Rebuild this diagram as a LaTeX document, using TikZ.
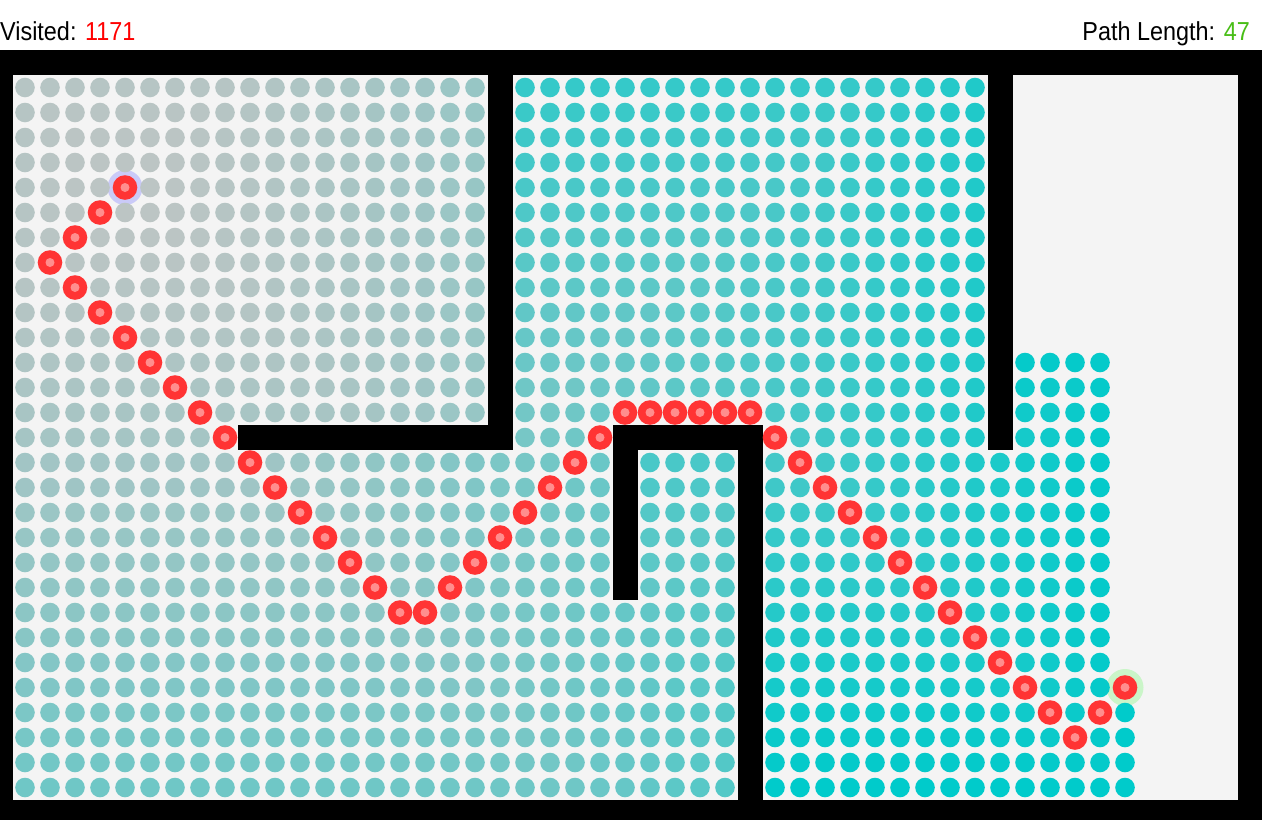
\documentclass[tikz,border=0pt]{standalone}
\usepackage{fontspec}
\setmainfont{Liberation Sans}
\usepackage{graphicx}
\definecolor{bgpanel}{HTML}{F4F4F4}
\definecolor{pathred}{RGB}{255,52,52}
\definecolor{pathcore}{RGB}{255,142,142}
\definecolor{starthalo}{RGB}{202,202,248}
\definecolor{endhalo}{RGB}{202,245,200}
\definecolor{countred}{RGB}{255,0,0}
\definecolor{lengreen}{RGB}{72,190,22}
\begin{document}
\begin{tikzpicture}[x=1pt,y=-1pt,
  wall/.style={fill=black},
  pathdot/.style={fill=pathred},
  pathmid/.style={fill=pathcore},
  label/.style={anchor=base, inner sep=0pt, font=\fontsize{26}{30}\selectfont}]
\useasboundingbox (0,0) rectangle (1262,820);
\fill[white] (0,0) rectangle (1262,820);
% frame and floor
\fill[wall] (0,50) rectangle (1262,820);
\fill[bgpanel] (12.5,75) rectangle (1237.5,800);
% inner walls
\fill[wall] (487.5,75) rectangle (512.5,450);
\fill[wall] (237.5,425) rectangle (512.5,450);
\fill[wall] (987.5,75) rectangle (1012.5,450);
\fill[wall] (612.5,425) rectangle (762.5,450);
\fill[wall] (612.5,425) rectangle (637.5,600);
\fill[wall] (737.5,425) rectangle (762.5,800);
% header texts
\node[label, anchor=base west] (visited) at (0,40) {\scalebox{0.9}[1]{Visited: \textcolor{countred}{1171}}};
\node[label, anchor=base east] (pathlen) at (1250,40) {\scalebox{0.9}[1]{Path Length: \textcolor{lengreen}{47}}};
% halos
\fill[starthalo] (125,187.5) circle[radius=17.5pt];
\fill[endhalo] (1125,687.5) circle[radius=18.5pt];
% visited cells
\foreach \ci in {1,...,49}{
  \foreach \ri in {1,...,29}{
    \pgfmathtruncatemacro\novis{((\ci==20)&&(\ri<=15))||((\ri==15)&&(\ci>=10)&&(\ci<=20))||((\ci==40)&&(\ri<=15))||((\ri==15)&&(\ci>=25)&&(\ci<=30))||((\ci==25)&&(\ri>=15)&&(\ri<=21))||((\ci==30)&&(\ri>=15))||((\ci>=41)&&(\ri<=11))||((\ci>=45)&&(\ri<=24))||(\ci>=46)}
    \ifnum\novis=0
      \pgfmathtruncatemacro\reg{((\ri<=15)&&(\ci<=19)) ? 1 : (((\ci<=29)&&(\ri>=15)) ? 2 : (((\ci<=39)&&(\ri<=15)) ? 3 : 4))}
      \ifcase\reg
      \or \pgfmathtruncatemacro\dd{max(abs(\ci-5),abs(\ri-5))}
      \or \pgfmathtruncatemacro\dd{((\ci>=26)&&(\ri<=21)) ? 26+max(\ci-25,22-\ri) : ((\ci<=\ri-6) ? max(abs(\ci-5),\ri-5) : 10+max(\ci-9,abs(\ri-15)))}
      \or \pgfmathtruncatemacro\dd{min(22+max(abs(\ci-21),15-\ri), 23+max(abs(\ci-22),15-\ri), 24+max(abs(\ci-23),15-\ri), 25+max(abs(\ci-24),15-\ri))}
      \or \pgfmathtruncatemacro\dd{((\ci>=41)&&(\ri<=15)) ? 41+max(\ci-40,16-\ri) : 31+max(\ci-30,\ri-14)}
      \fi
      \pgfmathsetmacro\tv{min(1,(max(\dd,0.3)/46)^1.35)}
      \pgfmathtruncatemacro\cR{190*(1-\tv)}
      \pgfmathtruncatemacro\cG{197+6*\tv}
      \pgfmathtruncatemacro\cB{196+7*\tv}
      \definecolor{dc}{RGB}{\cR,\cG,\cB}
      \fill[dc] ({25*\ci},{62.5+25*\ri}) circle[radius=9.8pt];
    \fi
  }
}
% path
\foreach \pc/\pr in {5/5,4/6,3/7,2/8,3/9,4/10,5/11,6/12,7/13,8/14,9/15,10/16,11/17,12/18,13/19,14/20,15/21,16/22,17/22,18/21,19/20,20/19,21/18,22/17,23/16,24/15,25/14,26/14,27/14,28/14,29/14,30/14,31/15,32/16,33/17,34/18,35/19,36/20,37/21,38/22,39/23,40/24,41/25,42/26,43/27,44/26,45/25}{
  \fill[pathdot] ({25*\pc},{62.5+25*\pr}) circle[radius=12.3pt];
  \fill[pathmid] ({25*\pc},{62.5+25*\pr}) circle[radius=4.5pt];
}
\end{tikzpicture}
\end{document}
